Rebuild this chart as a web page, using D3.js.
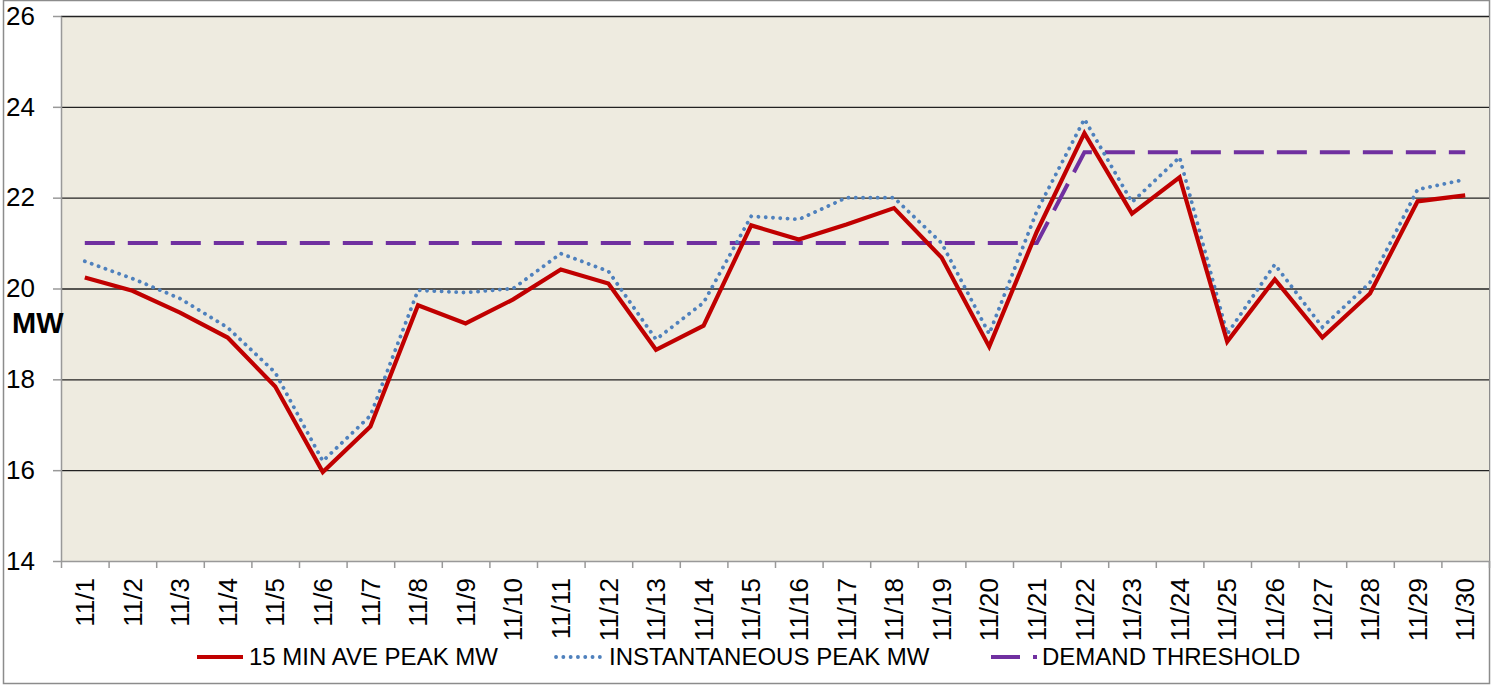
<!DOCTYPE html>
<html>
<head>
<meta charset="utf-8">
<script src="https://cdn.jsdelivr.net/npm/d3@7"></script>
<style>
  body { margin: 0; background: #fff; }
  svg { display: block; font-family: "Liberation Sans", Arial, sans-serif; }
</style>
</head>
<body>
<script>
var width = 1498;
var height = 685;

// data
var days = ["11/1","11/2","11/3","11/4","11/5","11/6","11/7","11/8","11/9","11/10",
  "11/11","11/12","11/13","11/14","11/15","11/16","11/17","11/18","11/19","11/20",
  "11/21","11/22","11/23","11/24","11/25","11/26","11/27","11/28","11/29","11/30"];
var avgPeak = [20.24, 19.95, 19.47, 18.92, 17.84, 15.96, 16.96, 19.63, 19.23, 19.76,
  20.42, 20.11, 18.65, 19.18, 21.39, 21.08, 21.41, 21.77, 20.68, 18.72,
  21.25, 23.42, 21.65, 22.45, 18.83, 20.2, 18.92, 19.89, 21.92, 22.05];
var instPeak = [20.6, 20.22, 19.78, 19.14, 18.15, 16.2, 17.2, 19.96, 19.91, 20.0,
  20.77, 20.38, 18.88, 19.69, 21.59, 21.52, 22.0, 22.0, 21.0, 19.0,
  21.7, 23.73, 21.9, 22.89, 19.0, 20.53, 19.15, 20.13, 22.18, 22.4];
var threshold = [21, 21, 21, 21, 21, 21, 21, 21, 21, 21,
  21, 21, 21, 21, 21, 21, 21, 21, 21, 21,
  21, 23, 23, 23, 23, 23, 23, 23, 23, 23];
var yTicks = [14, 16, 18, 20, 22, 24, 26];
var seriesNames = ["15 MIN AVE PEAK MW", "INSTANTANEOUS PEAK MW", "DEMAND THRESHOLD"];

var plot = { left: 61, right: 1489, top: 16, bottom: 561 };

var svg = d3.select("body").append("svg")
  .attr("width", width)
  .attr("height", height);

// outer border
svg.append("rect")
  .attr("x", 3.5).attr("y", 0.5)
  .attr("width", 1486).attr("height", 683)
  .attr("fill", "none")
  .attr("stroke", "#8c8c8c")
  .attr("stroke-width", 1.5);

svg.append("rect")
  .attr("x", plot.left).attr("y", plot.top)
  .attr("width", plot.right - plot.left).attr("height", plot.bottom - plot.top)
  .attr("fill", "#eeebe0");

var x = d3.scaleBand()
  .domain(days)
  .range([plot.left, plot.right])
  .padding(0);

var xEdge = d3.scaleLinear()
  .domain([0, days.length])
  .range([plot.left, plot.right]);

var y = d3.scaleLinear()
  .domain([14, 26])
  .range([plot.bottom, plot.top]);

function cx(d, i) { return x(days[i]) + x.bandwidth() / 2; }

// gridlines
svg.append("g")
  .attr("class", "grid")
  .attr("transform", "translate(" + plot.left + ",0)")
  .call(d3.axisLeft(y).tickValues(yTicks.slice(1)).tickSize(-(plot.right - plot.left)).tickFormat(""))
  .call(function(g) {
    g.select(".domain").remove();
    g.selectAll("line").attr("stroke", "#222").attr("stroke-width", 1.3);
  });

// y axis
svg.append("g")
  .attr("transform", "translate(" + plot.left + ",0)")
  .call(d3.axisLeft(y).tickValues(yTicks).tickSize(8).tickPadding(18).tickSizeOuter(0))
  .call(function(g) {
    g.select(".domain").attr("stroke", "#999").attr("stroke-width", 1.5);
    g.selectAll("line").attr("stroke", "#999").attr("stroke-width", 1.5);
    g.selectAll("text").attr("fill", "#000").style("font-size", "26px")
      .style("font-family", "'Liberation Sans', Arial, sans-serif");
  });

svg.append("text")
  .attr("x", 12).attr("y", 333)
  .style("font-size", "29px")
  .style("font-weight", "bold")
  .text("MW");

// x axis ticks at category boundaries
svg.append("g")
  .attr("transform", "translate(0," + plot.bottom + ")")
  .call(d3.axisBottom(xEdge).tickValues(d3.range(days.length + 1)).tickSize(7).tickSizeOuter(0).tickFormat(""))
  .call(function(g) {
    g.select(".domain").attr("stroke", "#999").attr("stroke-width", 1.5);
    g.selectAll("line").attr("stroke", "#999").attr("stroke-width", 1.5);
  });

// x labels
svg.append("g")
  .attr("transform", "translate(0," + plot.bottom + ")")
  .call(d3.axisBottom(x).tickSize(0))
  .call(function(g) {
    g.select(".domain").remove();
    g.selectAll("text")
      .attr("transform", "rotate(-90)")
      .attr("text-anchor", "end")
      .attr("x", -17)
      .attr("y", 0)
      .attr("dy", "0.35em")
      .attr("fill", "#000")
      .style("font-size", "26px")
      .style("font-family", "'Liberation Sans', Arial, sans-serif");
  });

var line = d3.line()
  .x(cx)
  .y(function(d) { return y(d); });

svg.append("path")
  .datum(threshold)
  .attr("d", line)
  .attr("fill", "none")
  .attr("stroke", "#7030a0")
  .attr("stroke-width", 4)
  .attr("stroke-dasharray", "30 13");

svg.append("path")
  .datum(instPeak)
  .attr("d", line)
  .attr("fill", "none")
  .attr("stroke", "#4f81bd")
  .attr("stroke-width", 3.8)
  .attr("stroke-linecap", "round")
  .attr("stroke-dasharray", "0.1 7.2");

svg.append("path")
  .datum(avgPeak)
  .attr("d", line)
  .attr("fill", "none")
  .attr("stroke", "#c00000")
  .attr("stroke-width", 4.2)
  .attr("stroke-linejoin", "miter");

// legend
var legendItems = [
  { name: seriesNames[0], x0: 197, tx: 249, color: "#c00000", dash: null, w: 4.2, cap: "butt" },
  { name: seriesNames[1], x0: 556, tx: 609, color: "#4f81bd", dash: "0.1 7.2", w: 3.8, cap: "round" },
  { name: seriesNames[2], x0: 991, tx: 1042, color: "#7030a0", dash: "29 13", w: 4, cap: "butt" }
];
var legendY = 657;

var lg = svg.selectAll(".legend")
  .data(legendItems)
  .enter().append("g")
  .attr("class", "legend");

lg.append("line")
  .attr("x1", function(d) { return d.x0; })
  .attr("x2", function(d) { return d.x0 + 46; })
  .attr("y1", legendY).attr("y2", legendY)
  .attr("stroke", function(d) { return d.color; })
  .attr("stroke-width", function(d) { return d.w; })
  .attr("stroke-linecap", function(d) { return d.cap; })
  .attr("stroke-dasharray", function(d) { return d.dash; });

lg.append("text")
  .attr("x", function(d) { return d.tx; })
  .attr("y", legendY)
  .attr("dy", "0.35em")
  .style("font-size", "24px")
  .text(function(d) { return d.name; });
</script>
</body>
</html>
